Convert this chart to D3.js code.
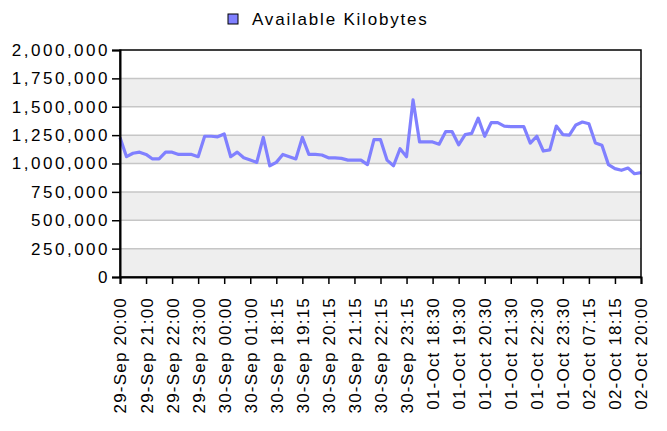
<!DOCTYPE html>
<html>
<head>
<meta charset="utf-8">
<script src="https://cdn.jsdelivr.net/npm/d3@7.9.0/dist/d3.min.js"></script>
<style>
  body { margin: 0; background: #fff; }
  svg text { font-family: Arial, "Liberation Sans", sans-serif; font-size: 17px; fill: #000; letter-spacing: 1.8px; }
  .y-axis text { letter-spacing: 2.5px; }
  .x-axis text { letter-spacing: 1.2px; }
</style>
</head>
<body>
<svg id="chart" width="667" height="431"></svg>
<script>
// time labels shown on the x axis (every 4th sample)
const tickLabels = [
  '29-Sep 20:00', '29-Sep 21:00', '29-Sep 22:00', '29-Sep 23:00',
  '30-Sep 00:00', '30-Sep 01:00', '30-Sep 18:15', '30-Sep 19:15',
  '30-Sep 20:15', '30-Sep 21:15', '30-Sep 22:15', '30-Sep 23:15',
  '01-Oct 18:30', '01-Oct 19:30', '01-Oct 20:30', '01-Oct 21:30',
  '01-Oct 22:30', '01-Oct 23:30', '02-Oct 07:15', '02-Oct 18:15',
  '02-Oct 20:00'
];
const pointsPerLabel = 4;

// available kilobytes, one value per 15 minute sample
const kilobytes = [
  1230000, 1060000, 1090000, 1100000, 1080000, 1040000, 1040000, 1100000,
  1100000, 1080000, 1080000, 1080000, 1060000, 1240000, 1240000, 1235000,
  1260000, 1060000, 1100000, 1050000, 1030000, 1010000, 1230000, 980000,
  1010000, 1080000, 1060000, 1040000, 1230000, 1080000, 1080000, 1075000,
  1050000, 1050000, 1045000, 1030000, 1030000, 1030000, 990000, 1210000,
  1210000, 1030000, 980000, 1130000, 1060000, 1560000, 1190000, 1190000,
  1190000, 1170000, 1280000, 1280000, 1165000, 1255000, 1265000, 1400000,
  1240000, 1360000, 1360000, 1330000, 1325000, 1325000, 1325000, 1180000,
  1240000, 1110000, 1120000, 1330000, 1255000, 1250000, 1340000, 1365000,
  1350000, 1180000, 1160000, 990000, 955000, 940000, 960000, 910000,
  920000
];
const seriesName = 'Available Kilobytes';
const yTicks = [0, 250000, 500000, 750000, 1000000, 1250000, 1500000, 1750000, 2000000];

const svg = d3.select('#chart');
const plot = { left: 120, right: 641, top: 50, bottom: 277 };

const x = d3.scaleLinear().domain([0, kilobytes.length - 1]).range([plot.left, plot.right]);
const y = d3.scaleLinear().domain([0, 2000000]).range([plot.bottom, plot.top]);

// alternating bands
const bands = d3.pairs(yTicks).filter((d, i) => i % 2 === 0);
svg.append('g').selectAll('rect')
  .data(bands)
  .join('rect')
  .attr('x', plot.left)
  .attr('width', plot.right - plot.left)
  .attr('y', d => y(d[1]))
  .attr('height', d => y(d[0]) - y(d[1]))
  .attr('fill', '#eeeeee');

// gridlines
svg.append('g').selectAll('line')
  .data(yTicks.slice(1, -1))
  .join('line')
  .attr('x1', plot.left).attr('x2', plot.right)
  .attr('y1', d => y(d)).attr('y2', d => y(d))
  .attr('stroke', '#c6c6c6')
  .attr('stroke-width', 1.5);

// the series
const line = d3.line()
  .x((d, i) => x(i))
  .y(d => y(d));
svg.append('path')
  .datum(kilobytes)
  .attr('d', line)
  .attr('fill', 'none')
  .attr('stroke', '#8080ff')
  .attr('stroke-width', 3.2)
  .attr('stroke-linejoin', 'round');

// frame
svg.append('rect')
  .attr('x', plot.left).attr('y', plot.top)
  .attr('width', plot.right - plot.left).attr('height', plot.bottom - plot.top)
  .attr('fill', 'none')
  .attr('stroke', '#000')
  .attr('stroke-width', 1.5);

// y axis
const yAxis = svg.append('g')
  .attr('class', 'y-axis')
  .attr('transform', `translate(${plot.left},0)`)
  .call(d3.axisLeft(y).tickValues(yTicks).tickFormat(d3.format(',')).tickSize(8).tickPadding(2));
yAxis.select('.domain').attr('stroke-width', 2);
yAxis.selectAll('.tick line').attr('stroke-width', 1.5);
yAxis.selectAll('text').attr('font-size', null).attr('font-family', null);

// x axis
const tickIdx = tickLabels.map((d, i) => i * pointsPerLabel);
const xAxis = svg.append('g')
  .attr('class', 'x-axis')
  .attr('transform', `translate(0,${plot.bottom})`)
  .call(d3.axisBottom(x).tickValues(tickIdx).tickFormat((d, i) => tickLabels[i]).tickSize(7));
xAxis.select('.domain').attr('stroke-width', 2);
xAxis.selectAll('.tick line').attr('stroke-width', 1.5);
xAxis.selectAll('text')
  .attr('font-size', null).attr('font-family', null)
  .attr('transform', 'rotate(-90)')
  .attr('text-anchor', 'end')
  .attr('x', -20)
  .attr('y', 0)
  .attr('dy', '0.35em');

// legend
const legend = svg.append('g').attr('transform', 'translate(228,14)');
legend.append('rect')
  .attr('width', 10).attr('height', 10)
  .attr('fill', '#8080ff')
  .attr('stroke', '#000');
legend.append('text')
  .attr('x', 24).attr('y', 11)
  .text(seriesName);
</script>
</body>
</html>
